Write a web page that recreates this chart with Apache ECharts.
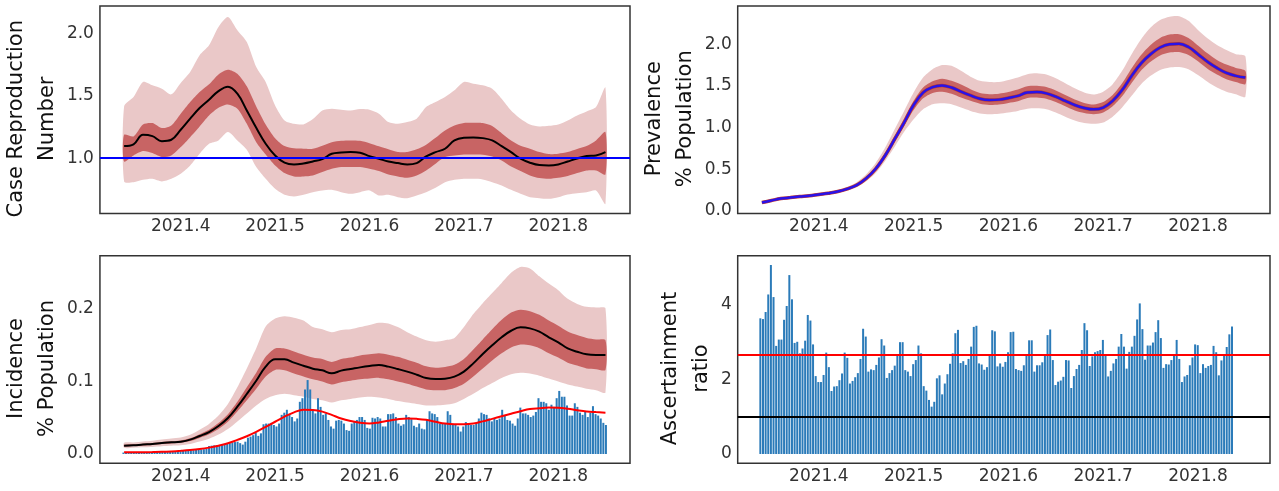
<!DOCTYPE html>
<html><head><meta charset="utf-8">
<script src="https://cdn.jsdelivr.net/npm/echarts@6/dist/echarts.min.js"></script>
<style>html,body{margin:0;padding:0;background:#fff}#c{width:1279px;height:491px}</style>
</head><body><div id="c"></div>
<script>
// ---- time grid for model curves (decimal years) ----
const tGrid = [2021.34,2021.35,2021.36,2021.37,2021.38,2021.39,2021.40,2021.41,2021.42,2021.43,
  2021.44,2021.45,2021.46,2021.47,2021.48,2021.49,2021.50,2021.51,2021.52,2021.53,
  2021.54,2021.55,2021.56,2021.57,2021.58,2021.59,2021.60,2021.61,2021.62,2021.63,
  2021.64,2021.65,2021.66,2021.67,2021.68,2021.69,2021.70,2021.71,2021.72,2021.73,
  2021.74,2021.75,2021.76,2021.77,2021.78,2021.79,2021.80,2021.81,2021.82,2021.83,
  2021.84,2021.85];

// ---- Case reproduction number ----
const rMed = [1.096,1.110,1.187,1.176,1.136,1.147,1.227,1.316,1.401,1.468,
  1.537,1.572,1.516,1.382,1.243,1.115,1.021,0.963,0.949,0.957,
  0.973,0.992,1.035,1.045,1.048,1.043,1.016,0.995,0.973,0.960,
  0.949,0.960,1.013,1.048,1.075,1.142,1.163,1.166,1.160,1.142,
  1.096,1.048,0.995,0.963,0.944,0.941,0.949,0.973,0.997,1.016,
  1.021,1.048];
const rDarkHi = [1.187,1.174,1.270,1.281,1.241,1.262,1.356,1.449,1.529,1.591,
  1.671,1.709,1.676,1.575,1.414,1.270,1.160,1.096,1.078,1.075,
  1.075,1.099,1.128,1.139,1.142,1.139,1.120,1.094,1.070,1.048,
  1.048,1.070,1.107,1.163,1.222,1.262,1.281,1.283,1.281,1.257,
  1.200,1.142,1.099,1.075,1.048,1.032,1.035,1.048,1.072,1.096,
  1.142,1.209];
const rDarkLo = [0.973,1.021,1.056,1.040,1.008,1.021,1.088,1.168,1.254,1.342,
  1.404,1.430,1.396,1.275,1.128,1.029,0.941,0.880,0.853,0.853,
  0.861,0.888,0.914,0.928,0.928,0.928,0.914,0.896,0.869,0.853,
  0.842,0.861,0.901,0.955,1.008,1.021,1.029,1.029,1.027,1.013,
  0.981,0.933,0.896,0.861,0.840,0.834,0.842,0.856,0.880,0.901,
  0.901,0.869];
const rLightHi = [1.414,1.489,1.610,1.583,1.556,1.511,1.602,1.690,1.824,1.904,
  2.051,2.131,2.024,1.930,1.730,1.610,1.422,1.302,1.275,1.270,
  1.313,1.382,1.396,1.388,1.382,1.393,1.388,1.356,1.289,1.275,
  1.289,1.316,1.409,1.449,1.489,1.543,1.610,1.596,1.583,1.556,
  1.476,1.382,1.316,1.270,1.254,1.259,1.270,1.302,1.342,1.374,
  1.409,1.564];
const rLightLo = [0.813,0.807,0.826,0.834,0.813,0.834,0.874,0.941,1.035,1.115,
  1.142,1.209,1.142,1.067,0.928,0.834,0.754,0.706,0.693,0.706,
  0.727,0.741,0.746,0.727,0.714,0.727,0.741,0.701,0.706,0.687,
  0.679,0.701,0.727,0.762,0.807,0.826,0.834,0.834,0.829,0.807,
  0.781,0.746,0.714,0.687,0.679,0.674,0.687,0.709,0.719,0.727,
  0.741,0.634];
const rThreshold = 1.0;

// ---- Prevalence (% population) ----
const prevMed = [0.100,0.125,0.148,0.160,0.172,0.183,0.198,0.212,0.232,0.265,
  0.310,0.390,0.505,0.665,0.860,1.060,1.270,1.420,1.485,1.505,
  1.480,1.430,1.385,1.345,1.330,1.335,1.355,1.380,1.420,1.425,
  1.410,1.370,1.320,1.270,1.235,1.218,1.240,1.320,1.450,1.620,
  1.770,1.880,1.960,2.000,2.005,1.966,1.880,1.790,1.715,1.655,
  1.620,1.599];
const prevLightHi = [0.115,0.140,0.160,0.172,0.185,0.197,0.213,0.230,0.252,0.290,
  0.345,0.440,0.575,0.760,0.980,1.200,1.420,1.600,1.700,1.750,
  1.740,1.680,1.610,1.560,1.545,1.545,1.570,1.600,1.640,1.650,
  1.635,1.590,1.530,1.470,1.420,1.395,1.430,1.520,1.680,1.880,
  2.060,2.200,2.290,2.330,2.335,2.280,2.170,2.070,1.990,1.930,
  1.880,1.855];
const prevLightLo = [0.085,0.110,0.135,0.148,0.160,0.170,0.184,0.197,0.215,0.245,
  0.285,0.355,0.455,0.600,0.770,0.950,1.100,1.220,1.280,1.290,
  1.280,1.240,1.200,1.170,1.160,1.165,1.180,1.200,1.225,1.230,
  1.220,1.180,1.130,1.085,1.055,1.045,1.060,1.130,1.240,1.380,
  1.520,1.620,1.690,1.720,1.725,1.700,1.630,1.550,1.480,1.430,
  1.400,1.370];
const prevDarkHi = [0.104,0.130,0.152,0.164,0.176,0.188,0.203,0.218,0.239,0.274,
  0.322,0.407,0.530,0.698,0.902,1.110,1.320,1.480,1.555,1.585,
  1.560,1.515,1.460,1.415,1.400,1.405,1.425,1.455,1.495,1.500,
  1.485,1.445,1.390,1.335,1.295,1.276,1.305,1.390,1.530,1.710,
  1.870,1.990,2.075,2.115,2.120,2.075,1.985,1.890,1.810,1.755,
  1.715,1.680];
const prevDarkLo = [0.096,0.120,0.144,0.156,0.168,0.179,0.193,0.207,0.226,0.258,
  0.301,0.378,0.488,0.642,0.828,1.020,1.210,1.350,1.415,1.430,
  1.405,1.360,1.320,1.285,1.270,1.275,1.295,1.315,1.355,1.360,
  1.345,1.305,1.255,1.205,1.175,1.160,1.180,1.255,1.375,1.535,
  1.685,1.790,1.865,1.900,1.905,1.870,1.795,1.705,1.635,1.580,
  1.545,1.520];

// ---- Incidence (% population) ----
const incMed = [0.0115,0.0120,0.0130,0.0138,0.0152,0.0161,0.0170,0.0198,0.0248,0.0303,
  0.0386,0.0497,0.0653,0.0828,0.1010,0.1205,0.1306,0.1306,0.1260,0.1218,
  0.1177,0.1154,0.1113,0.1150,0.1172,0.1195,0.1214,0.1228,0.1205,0.1172,
  0.1136,0.1094,0.1048,0.1034,0.1039,0.1067,0.1136,0.1250,0.1380,0.1500,
  0.1610,0.1700,0.1747,0.1733,0.1687,0.1610,0.1540,0.1457,0.1411,0.1375,
  0.1366,0.1366];
const incDarkLo = [0.0105,0.0110,0.0118,0.0125,0.0138,0.0146,0.0154,0.0178,0.0222,0.0272,
  0.0346,0.0445,0.0585,0.0740,0.0900,0.1070,0.1160,0.1155,0.1110,0.1070,
  0.1030,0.1000,0.0960,0.0990,0.1010,0.1030,0.1040,0.1050,0.1030,0.1000,
  0.0970,0.0930,0.0890,0.0880,0.0880,0.0910,0.0970,0.1070,0.1180,0.1290,
  0.1390,0.1470,0.1510,0.1500,0.1460,0.1390,0.1330,0.1260,0.1220,0.1180,
  0.1170,0.1160];
const incDarkHi = [0.0128,0.0133,0.0143,0.0152,0.0167,0.0177,0.0188,0.0218,0.0274,0.0336,
  0.0428,0.0550,0.0722,0.0920,0.1120,0.1340,0.1455,0.1455,0.1415,0.1370,
  0.1330,0.1310,0.1270,0.1310,0.1330,0.1360,0.1375,0.1390,0.1370,0.1340,
  0.1300,0.1260,0.1210,0.1190,0.1200,0.1230,0.1310,0.1440,0.1580,0.1720,
  0.1850,0.1950,0.1990,0.1970,0.1920,0.1840,0.1770,0.1690,0.1640,0.1600,
  0.1580,0.1570];
const incLightLo = [0.0085,0.0088,0.0093,0.0098,0.0108,0.0114,0.0120,0.0138,0.0172,0.0210,
  0.0268,0.0345,0.0450,0.0560,0.0670,0.0760,0.0810,0.0830,0.0810,0.0790,
  0.0760,0.0740,0.0710,0.0740,0.0760,0.0780,0.0790,0.0780,0.0760,0.0730,
  0.0710,0.0690,0.0670,0.0670,0.0680,0.0700,0.0760,0.0830,0.0910,0.0980,
  0.1050,0.1100,0.1120,0.1110,0.1080,0.1040,0.1000,0.0960,0.0930,0.0900,
  0.0880,0.0850];
const incLightHi = [0.0155,0.0160,0.0172,0.0183,0.0200,0.0213,0.0228,0.0265,0.0335,0.0415,
  0.0530,0.0690,0.0920,0.1180,0.1460,0.1760,0.1870,0.1900,0.1880,0.1840,
  0.1750,0.1720,0.1680,0.1710,0.1720,0.1750,0.1780,0.1810,0.1800,0.1750,
  0.1680,0.1620,0.1570,0.1550,0.1570,0.1600,0.1750,0.1930,0.2080,0.2220,
  0.2360,0.2500,0.2580,0.2560,0.2450,0.2350,0.2260,0.2140,0.2070,0.2030,
  0.2020,0.2010];
const incFit = [0.0023,0.0024,0.0025,0.0027,0.0030,0.0036,0.0044,0.0054,0.0068,0.0088,
  0.0115,0.0148,0.0195,0.0245,0.0305,0.0375,0.0445,0.0515,0.0575,0.0612,
  0.0608,0.0585,0.0540,0.0490,0.0455,0.0430,0.0420,0.0435,0.0460,0.0480,
  0.0490,0.0485,0.0472,0.0445,0.0420,0.0410,0.0410,0.0420,0.0450,0.0485,
  0.0520,0.0555,0.0590,0.0620,0.0632,0.0640,0.0638,0.0625,0.0605,0.0588,
  0.0578,0.0570];
// daily reported cases (% population), first day -> last day
const incBarStart = 2021.3393, incBarEnd = 2021.8505;
const incBars = [0.0020,0.0020,0.0020,0.0022,0.0022,0.0023,0.0023,0.0024,0.0024,0.0025,
  0.0025,0.0026,0.0026,0.0027,0.0030,0.0030,0.0031,0.0032,0.0033,0.0034,
  0.0036,0.0038,0.0040,0.0042,0.0045,0.0048,0.0050,0.0053,0.0056,0.0060,
  0.0063,0.0066,0.0070,0.0110,0.0115,0.0120,0.0120,0.0125,0.0130,0.0140,
  0.0145,0.0150,0.0160,0.0165,0.0170,0.0150,0.0130,0.0170,0.0225,0.0240,
  0.0260,0.0290,0.0250,0.0285,0.0410,0.0420,0.0420,0.0430,0.0400,0.0380,
  0.0420,0.0540,0.0570,0.0610,0.0550,0.0510,0.0450,0.0490,0.0720,0.0770,
  0.0890,0.1020,0.0890,0.0610,0.0560,0.0770,0.0650,0.0540,0.0560,0.0470,
  0.0380,0.0350,0.0460,0.0470,0.0460,0.0420,0.0330,0.0320,0.0420,0.0450,
  0.0470,0.0510,0.0510,0.0470,
  0.0360,0.0350,0.0500,0.0490,0.0510,0.0490,0.0380,0.0380,0.0550,0.0550,
  0.0560,0.0510,0.0420,0.0390,0.0410,0.0540,0.0510,0.0480,0.0390,0.0370,
  0.0420,0.0350,0.0340,0.0470,0.0590,0.0560,0.0550,0.0510,0.0420,0.0420,
  0.0420,0.0590,0.0540,0.0410,0.0410,0.0380,0.0310,0.0380,0.0440,0.0410,
  0.0400,0.0400,0.0420,0.0490,0.0570,0.0550,0.0540,0.0490,0.0450,0.0490,
  0.0470,0.0490,0.0610,0.0530,0.0470,0.0460,0.0420,0.0390,0.0490,0.0640,
  0.0560,0.0560,0.0540,0.0510,0.0530,0.0580,0.0770,0.0720,0.0720,0.0700,
  0.0610,0.0680,0.0650,0.0770,0.0870,0.0790,0.0790,0.0670,0.0530,0.0530,
  0.0700,0.0650,0.0570,0.0540,0.0580,0.0510,0.0570,0.0660,0.0550,0.0530,
  0.0490,0.0430,0.0400];

// ---- Ascertainment ratio (daily) ----
const ascStart = 2021.3383, ascEnd = 2021.8359;
const ascBars = [3.64,3.62,3.81,4.28,5.07,4.21,2.90,3.07,3.07,3.60,
  3.97,4.80,4.15,2.98,3.01,2.70,2.83,3.04,3.73,3.58,
  2.94,2.09,1.93,1.93,2.12,2.72,2.33,1.69,1.81,1.82,
  1.98,2.16,2.72,2.58,1.89,1.96,2.06,2.17,2.55,3.36,
  3.15,2.21,2.27,2.25,2.39,2.59,3.08,2.91,2.04,2.17,
  2.25,2.37,2.68,3.00,3.00,2.25,2.21,2.09,2.41,2.52,
  2.91,2.70,1.82,1.70,1.45,1.27,1.40,2.03,2.11,1.60,
  1.89,2.14,2.42,2.70,3.24,3.33,2.44,2.49,2.39,2.55,
  2.88,3.41,3.44,2.43,2.40,2.26,2.33,2.63,3.32,3.29,
  2.35,2.43,2.34,2.47,
  2.73,3.27,3.28,2.28,2.25,2.23,2.38,2.63,3.05,3.05,
  2.21,2.38,2.38,2.46,2.63,3.19,3.34,2.52,1.85,1.94,
  1.97,2.07,2.52,2.51,1.77,2.09,2.28,2.39,2.79,3.51,
  3.32,2.36,2.62,2.73,2.76,2.79,3.06,2.63,2.08,2.23,
  2.43,2.55,2.88,3.22,2.88,2.29,2.74,2.88,3.17,3.61,
  4.04,3.35,2.53,2.91,2.91,2.99,3.27,3.59,3.11,2.31,
  2.41,2.40,2.52,2.63,3.06,2.55,1.93,2.08,2.12,2.38,
  2.59,2.94,2.92,2.17,2.41,2.31,2.36,2.39,2.90,2.73,
  2.11,2.51,2.65,2.87,3.21,3.42];
const ascMean = 2.65;
const ascUnity = 1.0;

// ---- tick labels ----
const xTicks = [2021.4, 2021.5, 2021.6, 2021.7, 2021.8];
const rTicks = [1.0, 1.5, 2.0];
const prevTicks = [0.0, 0.5, 1.0, 1.5, 2.0];
const incTicks = [0.0, 0.1, 0.2];
const ascTicks = [0, 2, 4];

// ---------------- build chart ----------------
const FONT = 'DejaVu Sans';
const TXT = '#333333';
const LIGHT = '#eac8c8';
const DARK = '#c86464';
const BAR = '#2b7bb9';
const xMin = 2021.3144, xMax = 2021.876;

function pairs(xs, ys) { return xs.map((x, i) => [x, ys[i]]); }
function daily(start, end, vals) {
  const n = vals.length, step = (end - start) / (n - 1);
  return vals.map((v, i) => [start + i * step, v]);
}
function band(gi, lo, hi, color, z) {
  return {
    type: 'custom', xAxisIndex: gi, yAxisIndex: gi, silent: true, z: z,
    data: [[tGrid[0], lo[0]]],
    renderItem: function (params, api) {
      const pts = [];
      for (let i = 0; i < tGrid.length; i++) pts.push(api.coord([tGrid[i], hi[i]]));
      for (let i = tGrid.length - 1; i >= 0; i--) pts.push(api.coord([tGrid[i], lo[i]]));
      return { type: 'polygon', shape: { points: pts, smooth: 0.25 }, style: { fill: color } };
    }
  };
}
function line(gi, ys, color, width, z, extra) {
  return Object.assign({
    type: 'line', xAxisIndex: gi, yAxisIndex: gi, data: pairs(tGrid, ys), smooth: 0.4,
    symbol: 'none', silent: true, z: z, lineStyle: { color: color, width: width }
  }, extra || {});
}
function hline(y, color) {
  return { silent: true, symbol: 'none', label: { show: false }, animation: false,
    lineStyle: { color: color, width: 2, type: 'solid' }, emphasis: { disabled: true },
    data: [{ yAxis: y }] };
}
function xAx(gi) {
  return { type: 'value', gridIndex: gi, min: xMin, max: xMax,
    axisLine: { show: false }, axisTick: { show: false }, splitLine: { show: false },
    axisLabel: { customValues: xTicks, formatter: v => v.toFixed(1), color: TXT,
      fontSize: 17, fontFamily: FONT, margin: 5 } };
}
function yAx(gi, min, max, ticks, fmt, name, gap) {
  return { type: 'value', gridIndex: gi, min: min, max: max,
    axisLine: { show: false }, axisTick: { show: false }, splitLine: { show: false },
    axisLabel: { customValues: ticks, formatter: fmt, color: TXT, fontSize: 17, fontFamily: FONT, margin: 6 },
    name: name, nameLocation: 'middle', nameRotate: 90, nameGap: gap,
    nameTextStyle: { color: '#111', fontSize: 21, fontFamily: FONT, lineHeight: 31, padding: [0, 18, 0, 0] } };
}
const gridBase = { show: true, borderColor: '#333', borderWidth: 1.5, backgroundColor: 'transparent' };

const option = {
  animation: false,
  backgroundColor: '#fff',
  grid: [
    Object.assign({ left: 96.7, top: 6, width: 533.3, height: 207.5 }, gridBase),
    Object.assign({ left: 737.7, top: 6, width: 532.3, height: 207.5 }, gridBase),
    Object.assign({ left: 96.7, top: 255.7, width: 533.3, height: 207.6 }, gridBase),
    Object.assign({ left: 737.7, top: 255.7, width: 532.3, height: 207.6 }, gridBase)
  ],
  xAxis: [xAx(0), xAx(1), xAx(2), xAx(3)],
  yAxis: [
    yAx(0, 0.556, 2.219, rTicks, v => v.toFixed(1), 'Case Reproduction\nNumber', 28),
    yAx(1, -0.031, 2.458, prevTicks, v => v.toFixed(1), 'Prevalence\n% Population', 35),
    yAx(2, -0.0128, 0.2735, incTicks, v => v.toFixed(1), 'Incidence\n% Population', 33),
    yAx(3, -0.25, 5.32, ascTicks, v => String(v), 'Ascertainment\nratio', 19)
  ],
  series: [
    // panel 1
    band(0, rLightLo, rLightHi, LIGHT, 1),
    band(0, rDarkLo, rDarkHi, DARK, 2),
    line(0, rMed, '#000', 2, 4, { markLine: hline(rThreshold, '#0000ff') }),
    // panel 2
    band(1, prevLightLo, prevLightHi, LIGHT, 1),
    band(1, prevDarkLo, prevDarkHi, DARK, 2),
    line(1, prevMed, '#c0392b', 3.5, 3),
    line(1, prevMed, '#2a12e8', 2.5, 4),
    // panel 3
    band(2, incLightLo, incLightHi, LIGHT, 1),
    band(2, incDarkLo, incDarkHi, DARK, 2),
    line(2, incMed, '#000', 2, 4),
    { type: 'bar', xAxisIndex: 2, yAxisIndex: 2, data: daily(incBarStart, incBarEnd, incBars),
      barWidth: 2, silent: true, z: 5, itemStyle: { color: BAR } },
    line(2, incFit, '#ff0000', 2, 6),
    // panel 4
    { type: 'bar', xAxisIndex: 3, yAxisIndex: 3, data: daily(ascStart, ascEnd, ascBars),
      barWidth: 2, silent: true, z: 2, itemStyle: { color: BAR },
      markLine: hline(ascMean, '#ff0000') },
    { type: 'line', xAxisIndex: 3, yAxisIndex: 3, data: [], silent: true, z: 3,
      markLine: hline(ascUnity, '#000000') }
  ]
};
const chart = echarts.init(document.getElementById('c'), null, { renderer: 'canvas' });
chart.setOption(option);
</script>
</body></html>
